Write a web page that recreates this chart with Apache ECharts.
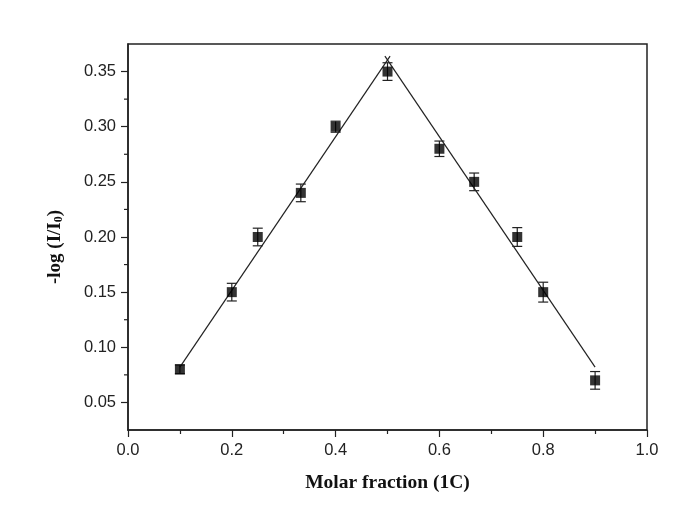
<!DOCTYPE html>
<html>
<head>
<meta charset="utf-8">
<script src="https://cdn.jsdelivr.net/npm/echarts@6/dist/echarts.min.js"></script>
<style>
  html, body { margin: 0; padding: 0; background: #fff; }
  #chart { width: 685px; height: 524px; }
</style>
</head>
<body>
<div id="chart"></div>
<script>
// measured points (molar fraction of 1C vs -log(I/I0))
const molarFraction = [0.1, 0.2, 0.25, 0.333, 0.4, 0.5, 0.6, 0.667, 0.75, 0.8, 0.9];
const absorbance = [0.08, 0.15, 0.20, 0.24, 0.30, 0.35, 0.28, 0.25, 0.20, 0.15, 0.07];
const errors = [0.004, 0.008, 0.008, 0.008, 0.005, 0.008, 0.007, 0.008, 0.0085, 0.009, 0.008];

// the two linear fits meeting at 0.5
const leftFit = [[0.1, 0.082], [0.505, 0.364]];
const rightFit = [[0.495, 0.364], [0.9, 0.082]];

const yTicks = [0.05, 0.10, 0.15, 0.20, 0.25, 0.30, 0.35];
const yMinorTicks = [0.075, 0.125, 0.175, 0.225, 0.275, 0.325];

const chart = echarts.init(document.getElementById("chart"));

const points = molarFraction.map((x, i) => [x, absorbance[i]]);
const bars = molarFraction.map((x, i) => [x, absorbance[i] - errors[i], absorbance[i] + errors[i]]);

const axisFont = { fontFamily: "Liberation Sans", fontSize: 16.5, color: "#222" };

chart.setOption({
  animation: false,
  backgroundColor: "#fff",
  grid: { left: 128, right: 38, top: 44, bottom: 94, show: true, borderColor: "#222", borderWidth: 1.5 },
  xAxis: {
    type: "value",
    min: 0,
    max: 1,
    interval: 0.2,
    name: "Molar fraction (1C)",
    nameLocation: "middle",
    nameGap: 43,
    nameTextStyle: { fontFamily: "Liberation Serif", fontWeight: "bold", fontSize: 19.5, color: "#111" },
    axisLine: { lineStyle: { color: "#222", width: 1.5 } },
    axisTick: { length: 7, lineStyle: { color: "#222", width: 1.2 } },
    minorTick: { show: true, splitNumber: 2, length: 4, lineStyle: { color: "#222", width: 1.2 } },
    splitLine: { show: false },
    axisLabel: Object.assign({ margin: 12, formatter: v => v.toFixed(1) }, axisFont)
  },
  yAxis: {
    type: "value",
    min: 0.025,
    max: 0.375,
    name: "{n|-log (I/I}{s|0}{e|)}",
    nameLocation: "middle",
    nameGap: 63,
    nameTextStyle: {
      rich: {
        n: { fontFamily: "Liberation Serif", fontWeight: "bold", fontSize: 19, color: "#111" },
        s: { fontFamily: "Liberation Serif", fontWeight: "bold", fontSize: 12, color: "#111", verticalAlign: "bottom", padding: [8, 0, 0, 0] },
        e: { fontFamily: "Liberation Serif", fontWeight: "bold", fontSize: 19, color: "#111", padding: [0, 20, 0, 0] }
      }
    },
    axisLine: { lineStyle: { color: "#222", width: 1.5 } },
    axisTick: { length: 7, lineStyle: { color: "#222", width: 1.2 }, customValues: yTicks },
    splitLine: { show: false },
    axisLabel: Object.assign({ margin: 12, customValues: yTicks, formatter: v => v.toFixed(2) }, axisFont)
  },
  series: [
    {
      type: "line",
      data: leftFit,
      symbol: "none",
      lineStyle: { color: "#222", width: 1.2 },
      z: 1
    },
    {
      type: "line",
      data: rightFit,
      symbol: "none",
      lineStyle: { color: "#222", width: 1.2 },
      z: 1
    },
    {
      // minor ticks on y, drawn through the axis scale
      type: "custom",
      data: yMinorTicks.map(v => [0, v]),
      silent: true,
      clip: false,
      renderItem: (params, api) => {
        const p = api.coord([0, api.value(1)]);
        return { type: "line", shape: { x1: p[0] - 4, y1: p[1], x2: p[0], y2: p[1] }, style: { stroke: "#222", lineWidth: 1.2 } };
      }
    },
    {
      type: "custom",
      data: bars,
      z: 2,
      renderItem: (params, api) => {
        const lo = api.coord([api.value(0), api.value(1)]);
        const hi = api.coord([api.value(0), api.value(2)]);
        const w = 5;
        const st = { stroke: "#222", lineWidth: 1.2 };
        return {
          type: "group",
          children: [
            { type: "line", shape: { x1: lo[0], y1: lo[1], x2: hi[0], y2: hi[1] }, style: st },
            { type: "line", shape: { x1: lo[0] - w, y1: lo[1], x2: lo[0] + w, y2: lo[1] }, style: st },
            { type: "line", shape: { x1: hi[0] - w, y1: hi[1], x2: hi[0] + w, y2: hi[1] }, style: st }
          ]
        };
      }
    },
    {
      type: "scatter",
      data: points,
      symbol: "rect",
      symbolSize: 10,
      itemStyle: { color: "#000" },
      z: 3
    }
  ]
});
</script>
</body>
</html>
